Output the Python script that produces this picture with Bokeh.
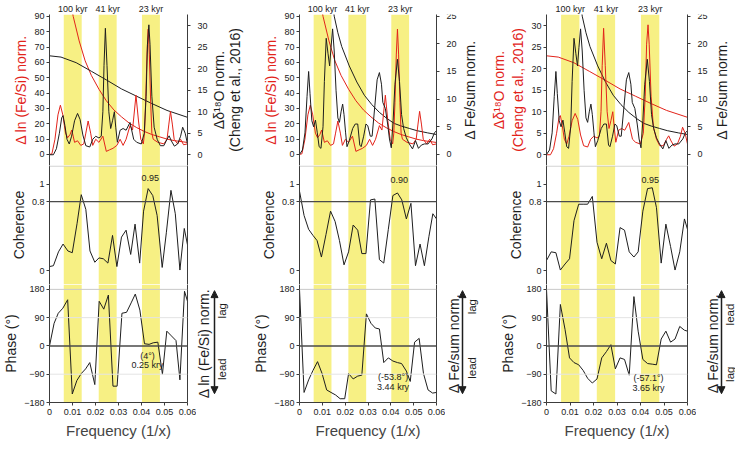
import math
from bokeh.plotting import figure
from bokeh.layouts import gridplot
from bokeh.models import (Range1d, LinearAxis, FixedTicker, Span, BoxAnnotation,
                          Label, Arrow, NormalHead)
from bokeh.core.properties import value
from bokeh.embed import file_html
from bokeh.resources import INLINE

# ---------------------------------------------------------------- data
freq_ticks = [0, 0.01, 0.02, 0.03, 0.04, 0.05, 0.06]
freq_tick_labels = ["0", "0.01", "0.02", "0.03", "0.04", "0.05", "0.06"]
band_left = [0.0062, 0.0214, 0.0402]
band_right = [0.0140, 0.0292, 0.0480]
band_labels = ["100 kyr", "41 kyr", "23 kyr"]

fesi_ticks = [0, 10, 20, 30, 40, 50, 60, 70, 80, 90]
d18o_ticks = [0, 5, 10, 15, 20, 25, 30]
fesum_ticks = [0, 5, 10, 15, 20, 25]
coh_ticks = [0, 0.8, 1]
coh_tick_labels = ["0", "0.8", "1"]
phase_ticks = [-180, -90, 0, 90, 180]

# Δ ln(Fe/Si) spectrum and its confidence curve
fesi_x = [0, 0.00105, 0.00237, 0.00368, 0.00474, 0.00579, 0.00697, 0.0079, 0.0089, 0.0097,
          0.0109, 0.0122, 0.0136, 0.0149, 0.0158, 0.0168, 0.0179, 0.0188, 0.0201, 0.0215,
          0.0232, 0.0247, 0.0261, 0.0276, 0.0293, 0.0307, 0.032, 0.0333, 0.035, 0.0361,
          0.0376, 0.0387, 0.0397, 0.0408, 0.0413, 0.0418, 0.0424, 0.0429, 0.0434, 0.044,
          0.0445, 0.0451, 0.0471, 0.0497, 0.0511, 0.0519, 0.0526, 0.0534, 0.0542, 0.0557,
          0.057, 0.0583, 0.06]
fesi_y = [0, 0.4, 9.9, 25.8, 32.1, 25.8, 13.9, 10.9, 12.9, 15.9,
          7.9, 8.9, 5.9, 6.9, 13.9, 21.8, 13.9, 5.9, 9.9, 7.9,
          11.9, 2.0, 3.0, 4.0, 5.9, 9.9, 5.9, 9.9, 18.8, 15.9,
          38.6, 21.8, 9.9, 6.9, 13.9, 33.7, 65.4, 81.7, 65.4, 33.7,
          13.9, 9.9, 7.9, 6.9, 9.9, 19.8, 28.1, 19.8, 9.9, 6.9,
          9.9, 6.3, 6.9]
fesi_ci_x = [0.0096, 0.0103, 0.0129, 0.0155, 0.0182, 0.0215, 0.0247, 0.028, 0.0313,
             0.0346, 0.0379, 0.0412, 0.0445, 0.0478, 0.0511, 0.0543, 0.06]
fesi_ci_y = [96, 90, 74, 61, 51.5, 42.5, 35, 29, 24.5, 20.5, 17.5, 15, 13, 11.5, 10, 9, 7.8]

# Δδ18O spectrum (Cheng et al., 2016) and its confidence curve
d18o_x = [0, 0.0017, 0.003, 0.0043, 0.0053, 0.0059, 0.0067, 0.0076, 0.0086, 0.0096,
          0.0109, 0.0122, 0.0133, 0.0145, 0.0158, 0.0175, 0.0188, 0.0201, 0.0215, 0.0225,
          0.0232, 0.0237, 0.0243, 0.025, 0.0258, 0.0266, 0.0274, 0.0282, 0.0288, 0.0295,
          0.0307, 0.032, 0.0333, 0.035, 0.0366, 0.0379, 0.0399, 0.0412, 0.042, 0.0426,
          0.0432, 0.0437, 0.0445, 0.0455, 0.0468, 0.0482, 0.0497, 0.0511, 0.052, 0.053,
          0.0543, 0.0557, 0.057, 0.0579, 0.059, 0.06]
d18o_y = [0, 0, 1.4, 5.0, 8.6, 9.1, 6.8, 3.6, 2.5, 4.3,
          7.9, 9.6, 8.2, 4.6, 2.1, 1.8, 3.6, 4.3, 3.9, 4.3,
          10.0, 20.7, 29.4, 20.7, 10.0, 6.1, 7.9, 10.0, 6.4, 2.9,
          5.7, 6.1, 5.7, 7.5, 3.6, 2.9, 2.5, 5.0, 13.6, 25.7,
          30.2, 25.7, 13.6, 6.4, 3.6, 2.1, 2.1, 3.6, 4.4, 3.2,
          2.0, 2.5, 4.3, 6.4, 5.0, 2.5]
d18o_ci_x = [0, 0.005, 0.0116, 0.0182, 0.0247, 0.0313, 0.0379, 0.0445, 0.0511, 0.06]
d18o_ci_y = [23.0, 22.7, 21.4, 19.4, 17.4, 15.3, 13.6, 11.9, 10.3, 8.7]

# Δ Fe/sum spectrum and its confidence curve
fesum_x = [0, 0.0013, 0.0024, 0.0033, 0.004, 0.0046, 0.0054, 0.0062, 0.007, 0.0078,
           0.0086, 0.0094, 0.0103, 0.0109, 0.0117, 0.0125, 0.0132, 0.0138, 0.0145, 0.0152,
           0.016, 0.0168, 0.0175, 0.0182, 0.0189, 0.0195, 0.0202, 0.0208, 0.0218, 0.0233,
           0.0244, 0.0255, 0.0264, 0.027, 0.0281, 0.0291, 0.0299, 0.031, 0.0318, 0.033,
           0.034, 0.035, 0.0359, 0.0365, 0.0376, 0.0386, 0.0394, 0.0402, 0.041, 0.0418,
           0.0429, 0.0438, 0.0447, 0.0456, 0.0468, 0.0481, 0.0495, 0.0508, 0.0521, 0.0534,
           0.0547, 0.0563, 0.058, 0.0591, 0.06]
fesum_y = [0, 0.8, 3.9, 10.5, 15.0, 11.0, 6.1, 5.0, 6.2, 3.9,
           1.4, 1.1, 5.0, 13.2, 21.0, 18.2, 16.0, 19.3, 22.7, 18.7,
           11.6, 6.6, 5.8, 7.7, 9.1, 7.2, 3.9, 1.4, 2.5, 4.7,
           5.5, 5.5, 1.7, 1.4, 3.3, 5.5, 5.2, 3.3, 3.3, 8.8,
           13.5, 14.8, 12.7, 9.4, 8.3, 5.5, 2.8, 1.2, 6.1, 12.7,
           17.2, 13.2, 7.2, 4.7, 3.0, 1.9, 1.0, 2.5, 1.1, 1.7,
           1.9, 1.9, 2.8, 3.9, 4.3]
fesum_ci_x = [0.0146, 0.0152, 0.0168, 0.0185, 0.0218, 0.0251, 0.0284, 0.0317, 0.035,
              0.0383, 0.0415, 0.0448, 0.0481, 0.0514, 0.0561, 0.06]
fesum_ci_y = [27, 25, 22.0, 19.5, 16.0, 13.1, 10.7, 9.0, 7.6, 6.5, 5.6, 5.1, 4.7, 4.3, 3.9, 3.6]

# coherence
coh1_x = [0, 0.0017, 0.0039, 0.0059, 0.008, 0.0099, 0.012, 0.0138, 0.0158, 0.0176,
          0.0197, 0.0215, 0.0234, 0.0254, 0.0274, 0.0293, 0.0313, 0.0333, 0.0353, 0.0372,
          0.0392, 0.0409, 0.0429, 0.0449, 0.0468, 0.049, 0.0508, 0.0528, 0.0547, 0.0567,
          0.0586, 0.06]
coh1_y = [0.05, 0.06, 0.22, 0.31, 0.23, 0.21, 0.55, 0.88, 0.71, 0.23,
          0.10, 0.15, 0.14, 0.09, 0.41, 0.05, 0.39, 0.47, 0.19, 0.54,
          0.09, 0.69, 0.95, 0.87, 0.64, 0.04, 0.44, 0.93, 0.66, 0.01,
          0.49, 0.30]
coh2_x = [0, 0.002, 0.004, 0.0059, 0.0077, 0.0096, 0.0116, 0.0136, 0.0156, 0.0175,
          0.0195, 0.0215, 0.0235, 0.0255, 0.0273, 0.0291, 0.0311, 0.033, 0.035, 0.0369,
          0.0389, 0.0409, 0.0429, 0.0448, 0.0468, 0.0488, 0.0508, 0.0528, 0.0547, 0.0567,
          0.0584, 0.06]
coh2_y = [0.92, 0.64, 0.48, 0.41, 0.35, 0.16, 0.42, 0.69, 0.57, 0.35,
          0.07, 0.22, 0.53, 0.47, 0.20, 0.20, 0.82, 0.83, 0.13, 0.09,
          0.48, 0.87, 0.90, 0.82, 0.60, 0.78, 0.06, 0.31, 0.06, 0.40,
          0.66, 0.60]
coh3_x = [0, 0.002, 0.004, 0.0059, 0.0079, 0.0098, 0.0117, 0.0137, 0.0156, 0.0175,
          0.0195, 0.0215, 0.0235, 0.0255, 0.0274, 0.0293, 0.0313, 0.0332, 0.0352, 0.0372,
          0.039, 0.041, 0.043, 0.045, 0.0468, 0.0488, 0.0508, 0.0528, 0.0547, 0.0567,
          0.0587, 0.06]
coh3_y = [0.12, 0.22, 0.21, 0.01, 0.08, 0.14, 0.58, 0.77, 0.77, 0.77,
          0.86, 0.33, 0.14, 0.32, 0.12, 0.08, 0.50, 0.47, 0.22, 0.16,
          0.22, 0.69, 0.95, 0.96, 0.73, 0.09, 0.54, 0.28, 0.01, 0.22,
          0.60, 0.48]

# phase (degrees)
ph1_x = [0, 0.002, 0.0038, 0.0058, 0.0079, 0.0099, 0.0119, 0.0138, 0.0157, 0.0175,
         0.0197, 0.0216, 0.0236, 0.0256, 0.0276, 0.0294, 0.0315, 0.0335, 0.0355, 0.0373,
         0.0393, 0.0413, 0.0433, 0.0451, 0.0471, 0.0491, 0.051, 0.053, 0.055, 0.0567,
         0.0587, 0.06]
ph1_y = [0, 72, 104, 120, 147, -153, -110, -88, -73, -53,
         -123, 142, 117, 162, -128, -128, 104, 107, 137, 165,
         114, 7, 5, 10, 12, -90, 47, 32, 17, -108,
         174, 142]
ph2_x = [0, 0.002, 0.004, 0.0059, 0.0079, 0.0099, 0.0119, 0.0138, 0.0158, 0.0178,
         0.0198, 0.0215, 0.0235, 0.0255, 0.0273, 0.0293, 0.0313, 0.0332, 0.035, 0.0369,
         0.0389, 0.0409, 0.0429, 0.0447, 0.0468, 0.0485, 0.0504, 0.0524, 0.0543, 0.0563,
         0.0583, 0.06]
ph2_y = [180, -148, -108, -78, -50, -88, -140, -148, -156, -168,
         -168, -88, -105, -96, -93, 102, 72, 57, 54, -53,
         -38, -48, -53, -56, -80, -113, 12, 24, -88, -140,
         -150, -148]
ph3_x = [0, 0.002, 0.004, 0.0059, 0.0079, 0.0098, 0.0117, 0.0137, 0.0156, 0.0175,
         0.0195, 0.0215, 0.0235, 0.0255, 0.0274, 0.0293, 0.0313, 0.0332, 0.0352, 0.0372,
         0.039, 0.041, 0.043, 0.045, 0.0468, 0.0488, 0.0508, 0.0528, 0.0547, 0.0567,
         0.0587, 0.06]
ph3_y = [180, -143, -153, 132, 52, -38, -53, -60, -78, -103,
         -118, -105, -38, -18, 4, -73, -38, -43, -93, 157,
         47, -43, -56, -58, -60, 22, 47, 12, 22, 62,
         50, 47]

# annotations at the 23 kyr band
coh_peak_text = ["0.95", "0.90", "0.95"]
coh_peak_x = [0.0438, 0.0437, 0.0442]
coh_peak_y = [1.07, 1.05, 1.05]
lag_deg_text = ["(4°)", "(-53.8°)", "(-57.1°)"]
lag_kyr_text = ["0.25 kry", "3.44 kry", "3.65 kry"]
lag_text_x = [0.0426, 0.0410, 0.0434]
lag_deg_y = [-31, -98, -103]
lag_kyr_y = [-61, -131, -135]

FESI_LABEL = "Δ ln (Fe/Si) norm."
D18O_LABEL = "Δδ¹⁸O norm.\n(Cheng et al., 2016)"
top_right_text = [["Δδ¹⁸O norm.", "(Cheng et al., 2016)"], ["Δ Fe/sum norm."], ["Δ Fe/sum norm."]]
phase_right_label = ["Δ ln (Fe/Si) norm.", "Δ Fe/sum norm.", "Δ Fe/sum norm."]
upper_word = ["lag", "lag", "lead"]
lower_word = ["lead", "lead", "lag"]

# ---------------------------------------------------------------- style / layout
FONT = "Liberation Sans"
RED = "#e2231a"
BLACK = "#1e1e1e"
YELLOW = "#f7f084"
AXIS = "#3c3c3c"
TICKTXT = "#222222"
X_END = 0.06

col_width = [250, 238, 247]
col_bl = [43, 40, 52]
col_br = [63, 52, 48]
GAP = 9          # main figure right border (spine, ticks, overhang of the last x label)
TOP_BT, TOP_FH = 14, 151
COH_FH = 119
PH_FH, PH_BB = 119, 38

top_left_range = [(-7.2, 91.2), (-7.2, 91.2), (-2.5, 32.6)]
top_right_range = [(-2.5, 32.6), (-2.0, 25.3), (-2.0, 25.3)]
COH_RANGE = (-0.157, 1.217)
PH_RANGE = (-180, 195.5)

left_series = [(fesi_x, fesi_y, fesi_ci_x, fesi_ci_y),
               (fesi_x, fesi_y, fesi_ci_x, fesi_ci_y),
               (d18o_x, d18o_y, d18o_ci_x, d18o_ci_y)]
right_series = [(d18o_x, d18o_y, d18o_ci_x, d18o_ci_y),
                (fesum_x, fesum_y, fesum_ci_x, fesum_ci_y),
                (fesum_x, fesum_y, fesum_ci_x, fesum_ci_y)]
left_ticks = [fesi_ticks, fesi_ticks, d18o_ticks]
right_ticks = [d18o_ticks, fesum_ticks, fesum_ticks]
left_labels = [FESI_LABEL, FESI_LABEL, D18O_LABEL]
coh_series = [(coh1_x, coh1_y), (coh2_x, coh2_y), (coh3_x, coh3_y)]
ph_series = [(ph1_x, ph1_y), (ph2_x, ph2_y), (ph3_x, ph3_y)]

# horizontal offsets (px from the frame's right edge) of the right-hand texts
tick_text_px = 10
top_text_px = [[31, 47], [33], [34]]
ph_label_px = [16, 17, 25]
arrow_px = [27, 26, 34]
word_px = [34, 35, 42]
upper_word_y = [112, 125, 100]
lower_word_y = [-74, -70, -90]


def base_fig(w, h, bl, bt, bb, yr):
    p = figure(width=w, height=h, x_range=Range1d(0, X_END), y_range=Range1d(*yr),
               x_axis_location=None, y_axis_location=None,
               output_backend="svg", toolbar_location=None,
               min_border_left=bl, min_border_right=GAP,
               min_border_top=bt, min_border_bottom=bb)
    p.outline_line_color = None
    p.grid.visible = False
    p.background_fill_color = "white"
    p.border_fill_color = "white"
    for l, r in zip(band_left, band_right):
        p.add_layout(BoxAnnotation(left=l, right=r, fill_color=YELLOW, fill_alpha=1.0,
                                   line_color=None, level="underlay"))
    return p


def side_fig(w, h, bt, bb, yr):
    s = figure(width=w, height=h, x_range=Range1d(0, w), y_range=Range1d(*yr),
               x_axis_location=None, y_axis_location=None,
               output_backend="svg", toolbar_location=None,
               min_border_left=0, min_border_right=0,
               min_border_top=bt, min_border_bottom=bb)
    s.outline_line_color = None
    s.grid.visible = False
    s.background_fill_color = "white"
    s.border_fill_color = "white"
    return s


def make_axis(ticks, label=None, label_color=BLACK, range_name="default",
              overrides=None, show_labels=True):
    ax = LinearAxis(y_range_name=range_name, ticker=FixedTicker(ticks=ticks),
                    axis_label=label)
    ax.axis_line_color = AXIS
    ax.axis_line_width = 1
    ax.major_tick_line_color = AXIS
    ax.major_tick_out = 3 if ticks else 0
    ax.major_tick_in = 0
    ax.minor_tick_line_color = None
    ax.major_label_text_font = FONT
    if show_labels:
        ax.major_label_text_font_size = "9px"
        ax.major_label_text_color = TICKTXT
        ax.major_label_standoff = 2
    else:
        ax.major_label_text_font_size = "1px"
        ax.major_label_text_color = None
        ax.major_label_standoff = 0
    ax.axis_label_text_font = FONT
    ax.axis_label_text_font_size = "14px"
    ax.axis_label_text_font_style = "normal"
    ax.axis_label_text_color = label_color
    ax.axis_label_standoff = 2 if label else 0
    if overrides:
        ax.major_label_overrides = overrides
    return ax


def vlabel(x, y, text, size="14px"):
    return Label(x=x, y=y, text=text, angle=math.pi / 2, text_align="center",
                 text_baseline="middle", text_font=FONT, text_font_size=size,
                 text_color=BLACK)


grid_rows = [[], [], []]
for i in range(3):
    w, bl, br = col_width[i], col_bl[i], col_br[i]
    sw = br - GAP
    mw = w - sw

    # ---- spectra
    t = base_fig(mw, TOP_BT + TOP_FH, bl, TOP_BT, 0, top_left_range[i])
    t.extra_y_ranges = {"r": Range1d(*top_right_range[i])}
    lx, ly, lcx, lcy = left_series[i]
    rx, ry, rcx, rcy = right_series[i]
    t.line(lcx, lcy, line_color=RED, line_width=1.0)
    t.line(rcx, rcy, line_color=BLACK, line_width=1.0, y_range_name="r")
    t.line(lx, ly, line_color=RED, line_width=1.0)
    t.line(rx, ry, line_color=BLACK, line_width=1.0, y_range_name="r")
    t.add_layout(make_axis(left_ticks[i], left_labels[i], RED), "left")
    t.add_layout(make_axis(right_ticks[i], None, BLACK, "r", show_labels=False), "right")
    centers = [(l + r) / 2 for l, r in zip(band_left, band_right)]
    top_ax = LinearAxis(ticker=FixedTicker(ticks=centers),
                        major_label_overrides=dict(zip(centers, band_labels)))
    top_ax.axis_line_color = None
    top_ax.major_tick_line_color = None
    top_ax.major_tick_out = 0
    top_ax.major_tick_in = 0
    top_ax.minor_tick_line_color = None
    top_ax.major_label_standoff = 1
    top_ax.major_label_text_font = FONT
    top_ax.major_label_text_font_size = "9px"
    top_ax.major_label_text_color = TICKTXT
    t.add_layout(top_ax, "above")

    ts = side_fig(sw, TOP_BT + TOP_FH, TOP_BT, 0, top_right_range[i])
    rt = right_ticks[i]
    ts.text(x=[tick_text_px - GAP] * len(rt), y=rt, text=[str(v) for v in rt],
            text_align="left", text_baseline="middle", text_font=value(FONT),
            text_font_size="9px", text_color=TICKTXT)
    ymid = sum(top_right_range[i]) / 2
    for txt, off in zip(top_right_text[i], top_text_px[i]):
        ts.add_layout(vlabel(off - GAP, ymid, txt))

    # ---- coherence
    c = base_fig(mw, COH_FH, bl, 0, 0, COH_RANGE)
    c.add_layout(Span(location=COH_RANGE[1] - (COH_RANGE[1] - COH_RANGE[0]) * 0.6 / COH_FH,
                      dimension="width", line_color="#c8c8c8", line_width=1))
    c.add_layout(Span(location=0.8, dimension="width", line_color="#4a4a4a", line_width=1.4))
    cx, cy = coh_series[i]
    c.line(cx, cy, line_color=BLACK, line_width=1.0)
    c.add_layout(make_axis(coh_ticks, "Coherence",
                           overrides=dict(zip(coh_ticks, coh_tick_labels))), "left")
    c.add_layout(make_axis([], None), "right")
    c.add_layout(Label(x=coh_peak_x[i], y=coh_peak_y[i], text=coh_peak_text[i],
                       text_align="center", text_baseline="middle",
                       text_font=FONT, text_font_size="9px", text_color=TICKTXT))
    cs = side_fig(sw, COH_FH, 0, 0, COH_RANGE)

    # ---- phase
    p = base_fig(mw, PH_FH + PH_BB, bl, 0, PH_BB, PH_RANGE)
    for loc in (90, -90):
        p.add_layout(Span(location=loc, dimension="width", line_color="#e4e4e4", line_width=1))
    p.add_layout(Span(location=180, dimension="width", line_color="#c8c8c8", line_width=1))
    p.add_layout(Span(location=0, dimension="width", line_color="#4a4a4a", line_width=1.4))
    px_, py_ = ph_series[i]
    p.line(px_, py_, line_color=BLACK, line_width=1.0)
    p.add_layout(make_axis(phase_ticks, "Phase (°)"), "left")
    p.add_layout(make_axis([], None), "right")
    xa = LinearAxis(ticker=FixedTicker(ticks=freq_ticks), axis_label="Frequency (1/x)",
                    major_label_overrides=dict(zip(freq_ticks, freq_tick_labels)))
    xa.axis_line_color = AXIS
    xa.major_tick_line_color = AXIS
    xa.major_tick_out = 3
    xa.major_tick_in = 0
    xa.minor_tick_line_color = None
    xa.major_label_text_font = FONT
    xa.major_label_text_font_size = "9px"
    xa.major_label_text_color = TICKTXT
    xa.major_label_standoff = 3
    xa.axis_label_text_font = FONT
    xa.axis_label_text_font_size = "15px"
    xa.axis_label_text_font_style = "normal"
    xa.axis_label_standoff = 4
    p.add_layout(xa, "below")
    p.add_layout(Label(x=lag_text_x[i], y=lag_deg_y[i], text=lag_deg_text[i],
                       text_align="center", text_baseline="middle",
                       text_font=FONT, text_font_size="9px", text_color=TICKTXT))
    p.add_layout(Label(x=lag_text_x[i], y=lag_kyr_y[i], text=lag_kyr_text[i],
                       text_align="center", text_baseline="middle",
                       text_font=FONT, text_font_size="9px", text_color=TICKTXT))

    ps = side_fig(sw, PH_FH + PH_BB, 0, PH_BB, PH_RANGE)
    ps.add_layout(vlabel(ph_label_px[i] - GAP, 8, phase_right_label[i]))
    axx = arrow_px[i] - GAP
    ps.add_layout(Arrow(x_start=axx, y_start=-152, x_end=axx, y_end=176,
                        start=NormalHead(size=7, fill_color=BLACK, line_color=BLACK),
                        end=NormalHead(size=7, fill_color=BLACK, line_color=BLACK),
                        line_color=BLACK, line_width=1.5))
    wx = word_px[i] - GAP
    ps.add_layout(vlabel(wx, upper_word_y[i], upper_word[i], "11.5px"))
    ps.add_layout(vlabel(wx, lower_word_y[i], lower_word[i], "11.5px"))

    grid_rows[0] += [t, ts]
    grid_rows[1] += [c, cs]
    grid_rows[2] += [p, ps]

grid = gridplot(grid_rows, toolbar_location=None)
open("out.html", "w").write(file_html(grid, INLINE))
